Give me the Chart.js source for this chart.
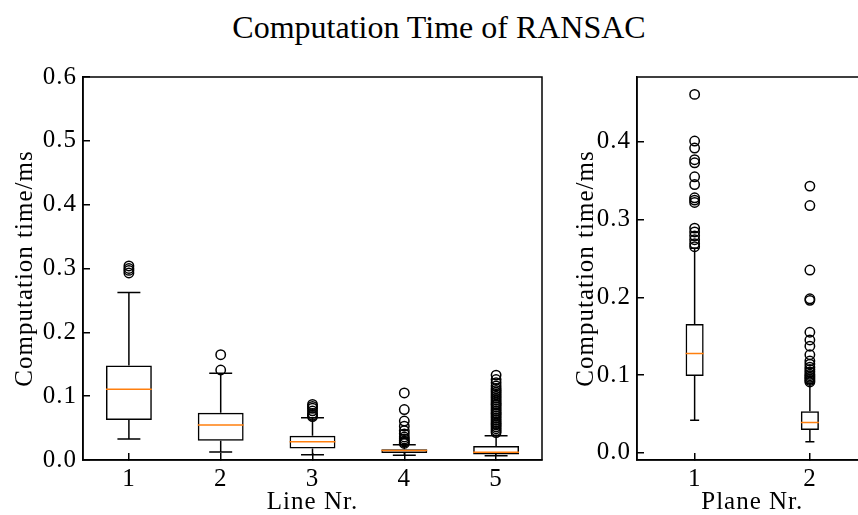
<!DOCTYPE html>
<html>
<head>
<meta charset="utf-8">
<script src="https://cdn.jsdelivr.net/npm/chart.js@4/dist/chart.umd.min.js"></script>
<style>
  html, body { margin: 0; padding: 0; background: #fff; width: 858px; height: 515px; overflow: hidden; }
  #wrap { position: relative; width: 858px; height: 515px; overflow: hidden; }
  #title { position: absolute; left: 0; width: 878px; top: 9px; text-align: center;
           font-family: "Liberation Serif", serif; font-size: 32px; color: #000; white-space: nowrap; }
  #c1 { position: absolute; left: 0; top: 0; }
  #c2 { position: absolute; left: 560px; top: 0; }
</style>
</head>
<body>
<div id="wrap">
  <div id="title">Computation Time of RANSAC</div>
  <canvas id="c1" width="560" height="515"></canvas>
  <canvas id="c2" width="330" height="515"></canvas>
</div>
<script>
// ---------- data: left panel (lines) ----------
const lineCategories = ['1', '2', '3', '4', '5'];
const lineQ1       = [0.0625, 0.030, 0.018, 0.011, 0.0085];
const lineMedian   = [0.111, 0.055, 0.0285, 0.0150, 0.012];
const lineQ3       = [0.148, 0.074, 0.038, 0.017, 0.022];
const lineWhiskLo  = [0.033, 0.0125, 0.0083, 0.0073, 0.0068];
const lineWhiskHi  = [0.2625, 0.136, 0.066, 0.024, 0.038];
const lineOutliers = [
  [0.293, 0.297, 0.300, 0.304],
  [0.141, 0.165],
  [0.068, 0.070, 0.073, 0.077, 0.081, 0.084, 0.087],
  [0.026, 0.028, 0.030, 0.033, 0.036, 0.041, 0.046, 0.053, 0.061, 0.079, 0.105],
  [0.043, 0.046, 0.049, 0.052, 0.055, 0.057, 0.060, 0.063, 0.066, 0.069, 0.072, 0.074,
   0.077, 0.080, 0.083, 0.086, 0.088, 0.091, 0.094, 0.097, 0.100, 0.103, 0.106, 0.109,
   0.112, 0.116, 0.121, 0.126, 0.133]
];
const lineYTicks = [0.0, 0.1, 0.2, 0.3, 0.4, 0.5, 0.6];

// ---------- data: right panel (planes) ----------
const planeCategories = ['1', '2'];
const planeQ1       = [0.0988, 0.0293];
const planeMedian   = [0.1276, 0.0387];
const planeQ3       = [0.1655, 0.0533];
const planeWhiskLo  = [0.0417, 0.0142];
const planeWhiskHi  = [0.263, 0.089];
const planeOutliers = [
  [0.265, 0.269, 0.274, 0.279, 0.284, 0.289, 0.322, 0.325, 0.328, 0.345, 0.355,
   0.373, 0.377, 0.392, 0.401, 0.461],
  [0.091, 0.093, 0.095, 0.097, 0.099, 0.101, 0.104, 0.107, 0.110, 0.114, 0.118,
   0.126, 0.137, 0.145, 0.155, 0.196, 0.198, 0.235, 0.318, 0.343]
];
const planeYTicks = [0.0, 0.1, 0.2, 0.3, 0.4];

// ---------- styling ----------
const FONT = '"Liberation Serif", serif';
const TICK_SIZE = 25;
const LW = 1.5;
const MEDIAN_COLOR = '#ff7f0e';

const spacingPlugin = {
  id: 'spacing',
  beforeUpdate(chart) { chart.ctx.letterSpacing = '1px'; },
  beforeDraw(chart) { chart.ctx.letterSpacing = '1px'; }
};

const framePlugin = {
  id: 'frame',
  afterDraw(chart) {
    const a = chart.chartArea, ctx = chart.ctx;
    ctx.save();
    ctx.strokeStyle = '#000';
    ctx.lineWidth = LW;
    ctx.strokeRect(a.left, a.top, a.right - a.left, a.bottom - a.top);
    ctx.restore();
  }
};

const boxPlugin = {
  id: 'boxparts',
  afterDatasetDraw(chart, args) {
    if (args.meta.type !== 'bar') return;
    const st = chart.config.options.plugins.boxparts;
    const ys = chart.scales.y, ctx = chart.ctx;
    ctx.save();
    ctx.beginPath();
    const a = chart.chartArea;
    ctx.rect(a.left, a.top, a.right - a.left, a.bottom - a.top);
    ctx.clip();
    args.meta.data.forEach((el, i) => {
      const x = el.x, w = el.width, cw = w / 2;
      const pq1 = ys.getPixelForValue(st.q1[i]);
      const pq3 = ys.getPixelForValue(st.q3[i]);
      const plo = ys.getPixelForValue(st.lo[i]);
      const phi = ys.getPixelForValue(st.hi[i]);
      const pm = ys.getPixelForValue(st.med[i]);
      ctx.strokeStyle = '#000';
      ctx.lineWidth = LW;
      ctx.beginPath();
      ctx.moveTo(x, pq1); ctx.lineTo(x, plo);
      ctx.moveTo(x, pq3); ctx.lineTo(x, phi);
      ctx.moveTo(x - cw / 2, plo); ctx.lineTo(x + cw / 2, plo);
      ctx.moveTo(x - cw / 2, phi); ctx.lineTo(x + cw / 2, phi);
      ctx.stroke();
      ctx.strokeStyle = MEDIAN_COLOR;
      ctx.beginPath();
      ctx.moveTo(x - w / 2, pm); ctx.lineTo(x + w / 2, pm);
      ctx.stroke();
    });
    ctx.restore();
  }
};

function makeChart(canvasId, cats, q1, med, q3, lo, hi, outl, yMin, yMax, yTicks, boxFrac,
                   yAxisWidth, rightPad, yTitlePad, xTitle) {
  const boxData = cats.map((c, i) => [q1[i], q3[i]]);
  const pts = [];
  outl.forEach((arr, i) => arr.forEach(v => pts.push({ x: cats[i], y: v })));
  return new Chart(document.getElementById(canvasId), {
    type: 'bar',
    data: {
      labels: cats,
      datasets: [
        {
          type: 'scatter', data: pts, order: 0,
          pointStyle: 'circle', pointRadius: 4.7, pointHoverRadius: 4.7,
          pointBorderWidth: LW, pointBorderColor: '#000', pointBackgroundColor: 'rgba(0,0,0,0)',
          clip: false
        },
        {
          type: 'bar', data: boxData, order: 1,
          backgroundColor: 'rgba(0,0,0,0)', borderColor: '#000', borderWidth: LW,
          borderSkipped: false, barPercentage: boxFrac, categoryPercentage: 1.0, grouped: false
        }
      ]
    },
    options: {
      responsive: false, animation: false, devicePixelRatio: 1,
      layout: { padding: { top: 77, right: rightPad, left: 0, bottom: 0 } },
      plugins: {
        legend: { display: false }, tooltip: { enabled: false },
        boxparts: { q1: q1, q3: q3, med: med, lo: lo, hi: hi }
      },
      scales: {
        x: {
          type: 'category', offset: true,
          grid: { display: true, offset: false, drawOnChartArea: false, drawTicks: true,
                  tickLength: -7, color: '#000', lineWidth: LW },
          border: { display: true, color: '#000', width: LW },
          ticks: { color: '#000', font: { family: FONT, size: TICK_SIZE }, padding: 11, maxRotation: 0 },
          title: { display: true, text: xTitle, color: '#000', font: { family: FONT, size: TICK_SIZE },
                   padding: { top: 0, bottom: -2 } },
          afterFit: s => { s.height = 55; }
        },
        y: {
          type: 'linear', min: yMin, max: yMax,
          afterBuildTicks: s => { s.ticks = yTicks.map(v => ({ value: v })); },
          grid: { display: true, drawOnChartArea: false, drawTicks: true,
                  tickLength: -7, color: '#000', lineWidth: LW },
          border: { display: true, color: '#000', width: LW },
          ticks: { color: '#000', font: { family: FONT, size: TICK_SIZE }, padding: 13,
                   callback: v => Number(v).toFixed(1) },
          title: { display: true, text: 'Computation time/ms', color: '#000',
                   font: { family: FONT, size: TICK_SIZE }, padding: { top: yTitlePad, bottom: 0 } },
          afterFit: s => { s.width = yAxisWidth; }
        }
      }
    },
    plugins: [spacingPlugin, framePlugin, boxPlugin]
  });
}

makeChart('c1', lineCategories, lineQ1, lineMedian, lineQ3, lineWhiskLo, lineWhiskHi, lineOutliers,
          0, 0.6, lineYTicks, 0.5, 83, 18, 10, 'Line Nr.');
makeChart('c2', planeCategories, planeQ1, planeMedian, planeQ3, planeWhiskLo, planeWhiskHi, planeOutliers,
          -0.0094, 0.4834, planeYTicks, 0.157, 77, 22.5, 11, 'Plane Nr.');
</script>
</body>
</html>
